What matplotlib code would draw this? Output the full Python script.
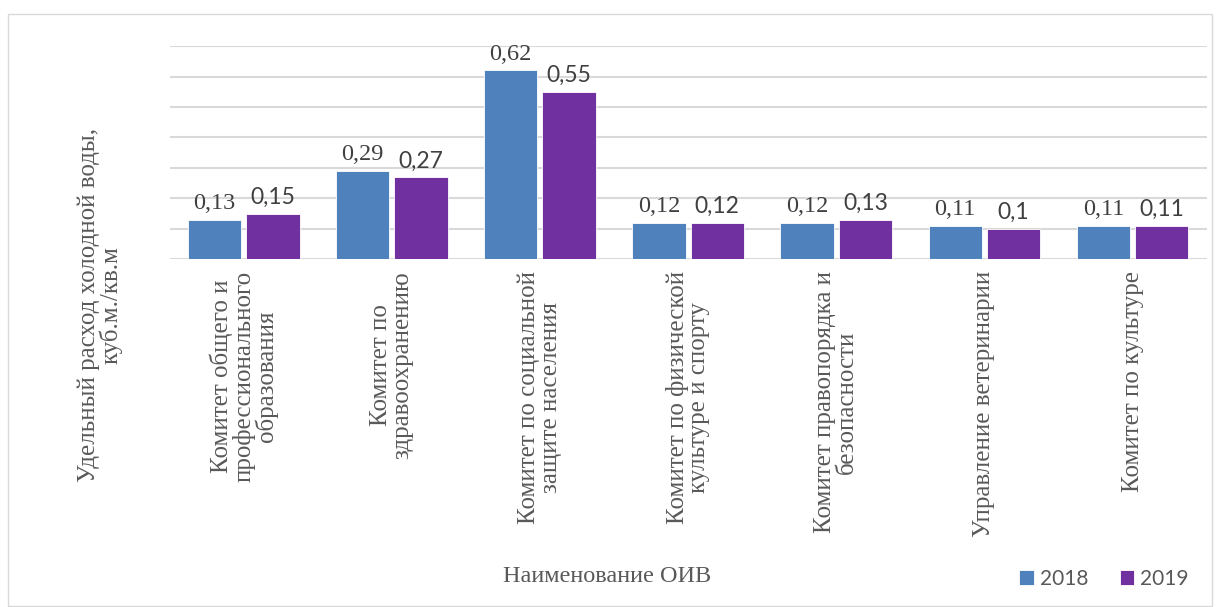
import matplotlib
matplotlib.use("Agg")
import matplotlib.pyplot as plt
import numpy as np
from matplotlib.patches import Rectangle

categories = [
    "Комитет общего и\nпрофессионального\nобразования",
    "Комитет по\nздравоохранению",
    "Комитет по социальной\nзащите населения",
    "Комитет по физической\nкультуре и спорту",
    "Комитет правопорядка и\nбезопасности",
    "Управление ветеринарии",
    "Комитет по культуре",
]
vals_2018 = [0.13, 0.29, 0.62, 0.12, 0.12, 0.11, 0.11]
vals_2019 = [0.15, 0.27, 0.55, 0.12, 0.13, 0.10, 0.11]
years = ["2018", "2019"]

C_BLUE = "#4f81bd"
C_PURPLE = "#7030a0"
SERIF = "Liberation Serif"
SANS = "Lato"

fig = plt.figure(figsize=(12.2, 6.07), dpi=100)
ax = fig.add_axes([0.139, 0.573, 0.850, 0.351])

x = np.arange(len(categories))
w = 0.36
off = 0.197
b1 = ax.bar(x - off, vals_2018, w, color=C_BLUE, edgecolor="white", linewidth=0.6,
            label=years[0], zorder=3)
b2 = ax.bar(x + off, vals_2019, w, color=C_PURPLE, edgecolor="white", linewidth=0.6,
            label=years[1], zorder=3)

# data labels: 2018 in serif, 2019 in sans (as in the source chart)
for xi, v in zip(x - off, vals_2018):
    ax.annotate(f"{v:g}".replace(".", ","), (xi, v), textcoords="offset points",
                xytext=(0, 4), ha="center", va="bottom", fontsize=17.5,
                family=SERIF, color="#404040")
for xi, v in zip(x + off, vals_2019):
    ax.annotate(f"{v:g}".replace(".", ","), (xi, v), textcoords="offset points",
                xytext=(0, 4), ha="center", va="bottom", fontsize=16.5,
                family=SANS, color="#404040")

ax.set_xlim(-0.5, len(categories) - 0.5)
ax.set_ylim(0, 0.7)
ax.set_yticks(np.arange(0, 0.71, 0.1))
ax.yaxis.grid(True, color="#d9d9d9", linewidth=1.5, zorder=0)
ax.set_axisbelow(True)
ax.tick_params(left=False, labelleft=False, bottom=False, labelbottom=False)
for s in ax.spines.values():
    s.set_visible(False)

for xi, lab in zip(x, categories):
    ax.text(xi, -0.055, lab, rotation=90, ha="center", va="top",
            multialignment="center", fontsize=18, family=SERIF,
            color="#595959", linespacing=0.97,
            transform=ax.get_xaxis_transform())

fig.text(100 / 1220, 1 - 305 / 607, "Удельный расход холодной воды,\nкуб.м./кв.м",
         rotation=90, ha="center", va="center", multialignment="center",
         fontsize=18, family=SERIF, color="#595959", linespacing=0.95)
fig.text(607 / 1220, 1 - 577 / 607, "Наименование ОИВ", ha="center", va="center",
         fontsize=17.5, family=SERIF, color="#595959")

fig.legend(handles=[b1, b2], labels=years, loc="center", ncol=2,
           bbox_to_anchor=(1104 / 1220, 1 - 579 / 607), frameon=False,
           prop={"family": SANS, "size": 15}, labelcolor="#595959",
           handlelength=0.7, handleheight=0.7, handletextpad=0.3,
           columnspacing=1.5)

fig.patches.append(Rectangle((8 / 1220, 1 / 607), 1204 / 1220, 592 / 607,
                             transform=fig.transFigure, fill=False,
                             edgecolor="#d9d9d9", linewidth=1))

fig.savefig("out.png", dpi=100)
